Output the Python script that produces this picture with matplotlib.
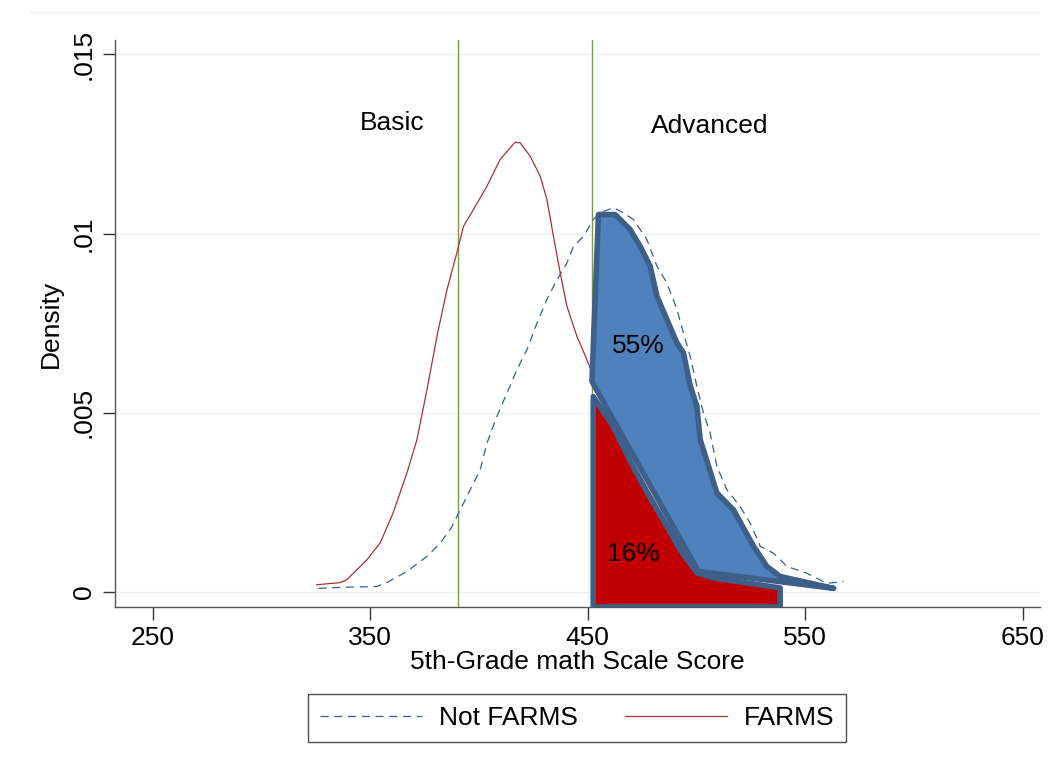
import matplotlib.pyplot as plt
from matplotlib.lines import Line2D

plt.rcParams["font.family"] = ["Liberation Sans", "DejaVu Sans"]

# ── data ────────────────────────────────────────────────────────
farms_x = [325.3, 336.1, 339.1, 348.3, 354.5, 360.4, 366.8, 371.4, 376.0, 380.6,
           385.2, 389.8, 392.8, 397.4, 403.6, 409.7, 416.6, 418.9, 423.5, 428.1,
           431.2, 434.2, 437.3, 440.4, 445.0, 449.6, 452.6, 461.7, 470.9, 484.7,
           500.3, 523.0, 538.0]
farms_y = [0.00020, 0.00026, 0.00034, 0.00089, 0.00137, 0.00220, 0.00332, 0.00425,
           0.00564, 0.00713, 0.00843, 0.00947, 0.01020, 0.01067, 0.01132, 0.01207,
           0.01255, 0.01253, 0.01216, 0.01160, 0.01095, 0.00992, 0.00890, 0.00797,
           0.00713, 0.00648, 0.00601, 0.00470, 0.00360, 0.00210, 0.00060, 0.00025,
           0.00010]

notfarms_x = [326.1, 337.6, 352.9, 357.5, 366.8, 376.0, 382.1, 387.5, 391.3, 395.9,
              400.5, 403.6, 408.2, 412.8, 417.4, 422.0, 426.6, 431.2, 435.8, 440.4,
              443.4, 448.0, 452.6, 455.7, 461.8, 466.4, 471.0, 477.2, 481.8, 486.4,
              491.0, 494.0, 497.1, 500.2, 503.2, 506.3, 509.4, 514.0, 520.1, 524.7,
              529.4, 535.5, 541.6, 550.9, 560.0, 567.7]
notfarms_y = [0.00010, 0.00013, 0.00015, 0.00026, 0.00057, 0.00099, 0.00136, 0.00182,
              0.00229, 0.00285, 0.00341, 0.00415, 0.00490, 0.00555, 0.00620, 0.00676,
              0.00750, 0.00816, 0.00871, 0.00918, 0.00964, 0.00992, 0.01039, 0.01058,
              0.01072, 0.01058, 0.01039, 0.00983, 0.00909, 0.00862, 0.00788, 0.00723,
              0.00657, 0.00573, 0.00499, 0.00443, 0.00350, 0.00285, 0.00238, 0.00192,
              0.00127, 0.00108, 0.00071, 0.00052, 0.00024, 0.00029]

# hand-drawn shaded areas (share above the advanced cut)
red_poly_x = [452.5, 452.5, 461.7, 466.3, 470.9, 477.3, 484.7, 492.5, 500.3, 507.7,
              523.4, 538.5, 538.5]
red_poly_y = [-0.00042, 0.00545, 0.00461, 0.00405, 0.00349, 0.00277, 0.00201, 0.00117,
              0.00053, 0.00039, 0.00025, 0.00011, -0.00042]

blue_poly_x = [454.9, 462.6, 469.5, 474.1, 478.7, 481.8, 486.4, 491.0, 494.0, 497.2,
               500.2, 501.7, 509.4, 517.0, 526.3, 532.4, 538.5, 563.1, 500.9, 451.9]
blue_poly_y = [0.01053, 0.01053, 0.01011, 0.00964, 0.00909, 0.00825, 0.00760, 0.00695,
               0.00667, 0.00573, 0.00518, 0.00425, 0.00276, 0.00229, 0.00127, 0.00071,
               0.00043, 0.00010, 0.00057, 0.00587]

cut_scores = [390.4, 452.0]
xticks = [250, 350, 450, 550, 650]
yticks = [0, 0.005, 0.01, 0.015]
ytick_labels = ["0", ".005", ".01", ".015"]

FS = 19

# ── figure ───────────────────────────────────────────────────────
fig = plt.figure(figsize=(10.56, 7.75), dpi=100)
ax = fig.add_axes([0.1089, 0.2168, 0.8759, 0.7316])

for y in yticks:
    ax.axhline(y, color="#eaf1f2", lw=1, zorder=0)

for c in cut_scores:
    ax.axvline(c, color="#7d9a4c", lw=1, zorder=1)

ax.plot(notfarms_x, notfarms_y, color="#3a5f8f", lw=0.9, dashes=(6.5, 4.5), zorder=2,
        label="Not FARMS")
ax.plot(farms_x, farms_y, color="#a83236", lw=0.9, zorder=2, label="FARMS")

ax.fill(red_poly_x, red_poly_y, facecolor="#c00000", edgecolor="#3d5f8a", lw=4,
        joinstyle="round", zorder=3)
ax.fill(blue_poly_x, blue_poly_y, facecolor="#4f81bd", edgecolor="#3d5f8a", lw=4,
        joinstyle="round", zorder=4)

ax.text(360, 0.01307, "Basic", fontsize=FS, ha="center", va="center")
ax.text(506, 0.0130, "Advanced", fontsize=FS, ha="center", va="center")
ax.text(473.2, 0.00687, "55%", fontsize=FS, ha="center", va="center", zorder=5)
ax.text(470.9, 0.00106, "16%", fontsize=FS, ha="center", va="center", zorder=5)

ax.set_xlim(232.5, 658)
ax.set_ylim(-0.00042, 0.0154)
ax.set_xticks(xticks)
ax.set_xticklabels([str(v) for v in xticks], fontsize=FS)
ax.set_yticks(yticks)
ax.set_yticklabels(ytick_labels, fontsize=FS, rotation=90, va="center")
ax.tick_params(direction="out", length=9, width=1, color="#333333", pad=5)
ax.spines[["top", "right"]].set_visible(False)
for s in ["left", "bottom"]:
    ax.spines[s].set_color("#555555")
    ax.spines[s].set_linewidth(1)

ax.set_xlabel("5th-Grade math Scale Score", fontsize=FS, labelpad=0)
ax.set_ylabel("Density", fontsize=FS, labelpad=6)

fig.legend(loc="center", bbox_to_anchor=(0.5465, 0.0735), ncol=2, fontsize=FS,
           frameon=True, fancybox=False, edgecolor="#222222", handlelength=3.85,
           columnspacing=1.8, handletextpad=0.64, borderpad=0.45)

# faint graph-region border at the top
fig.add_artist(Line2D([0.028, 0.985], [0.985, 0.985], color="#f0f0f0", lw=1))

fig.savefig("out.png", dpi=100)
